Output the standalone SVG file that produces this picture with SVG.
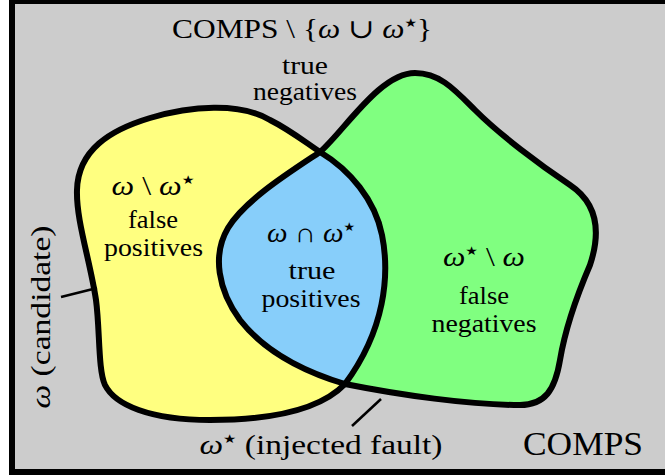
<svg xmlns="http://www.w3.org/2000/svg" width="665" height="475" viewBox="0 0 665 475">
<style>
.t{font-family:"Liberation Serif","DejaVu Serif",serif;fill:#000;text-anchor:middle}
.l{font-size:25px}
.s{font-family:"DejaVu Sans",sans-serif;font-size:12px}
.edge{fill:none;stroke:#000;stroke-width:6;stroke-linejoin:round}
.lead{stroke:#000;stroke-width:2.5;fill:none}
</style>
<defs>
<path id="pY" d="M320,152 C350,170 375,200 382,235 C390,275 385,330 345,384 C320,410 270,420 210,420 C150,420 115,405 105,385 C98,370 100,330 96,300 C90,260 76,220 77,190 C78,150 110,130 150,118 C190,106 240,102 270,120 C290,130 305,142 320,152 Z"/>
<path id="pG" d="M415,73 C440,73 455,90 475,110 C500,135 540,165 570,185 C600,205 600,235 590,265 C575,300 565,330 560,360 C555,390 545,405 520,405 C470,405 400,395 345,384 C305,372 265,352 240,320 C218,290 212,255 228,228 C245,200 290,172 320,152 C345,130 380,73 415,73 Z"/>
<clipPath id="cY"><use href="#pY"/></clipPath>
</defs>
<rect x="12" y="1" width="660" height="471" fill="#cccccc" stroke="#000" stroke-width="6"/>
<g id="omega"><use href="#pY" fill="#ffff80"/></g>
<g id="omega-star"><use href="#pG" fill="#80ff80"/></g>
<g id="intersection"><use href="#pG" fill="#87cefa" clip-path="url(#cY)"/></g>
<g id="outlines">
<use href="#pY" class="edge"/>
<use href="#pG" class="edge"/>
</g>
<g id="connectors">
<line class="lead" x1="61" y1="297" x2="97" y2="288"/>
<line class="lead" x1="352" y1="426" x2="381" y2="399"/>
</g>
<g id="labels">
<text class="t" x="302" y="38" font-size="27" textLength="260" lengthAdjust="spacingAndGlyphs">COMPS \ {<tspan font-style="italic">ω</tspan> ∪ <tspan font-style="italic">ω</tspan><tspan class="s" dy="-11">★</tspan><tspan dy="11">}</tspan></text>
<text class="t l" x="305" y="74" textLength="46" lengthAdjust="spacingAndGlyphs">true</text>
<text class="t l" x="305" y="100" textLength="104" lengthAdjust="spacingAndGlyphs">negatives</text>
<text class="t" x="153" y="195" font-size="27" textLength="83" lengthAdjust="spacingAndGlyphs"><tspan font-style="italic">ω</tspan> \ <tspan font-style="italic">ω</tspan><tspan class="s" dy="-11">★</tspan></text>
<text class="t l" x="153" y="228" textLength="50" lengthAdjust="spacingAndGlyphs">false</text>
<text class="t l" x="153.5" y="256" textLength="99" lengthAdjust="spacingAndGlyphs">positives</text>
<text class="t" x="311" y="242" font-size="27" textLength="88" lengthAdjust="spacingAndGlyphs"><tspan font-style="italic">ω</tspan> ∩ <tspan font-style="italic">ω</tspan><tspan class="s" dy="-11">★</tspan></text>
<text class="t l" x="312" y="279" textLength="47" lengthAdjust="spacingAndGlyphs">true</text>
<text class="t l" x="311" y="307" textLength="99" lengthAdjust="spacingAndGlyphs">positives</text>
<text class="t" x="484" y="266" font-size="27" textLength="82" lengthAdjust="spacingAndGlyphs"><tspan font-style="italic">ω</tspan><tspan class="s" dy="-11">★</tspan><tspan dy="11"> \ </tspan><tspan font-style="italic">ω</tspan></text>
<text class="t l" x="484" y="304" textLength="50" lengthAdjust="spacingAndGlyphs">false</text>
<text class="t l" x="484" y="332" textLength="105" lengthAdjust="spacingAndGlyphs">negatives</text>
<text class="t" x="0" y="0" font-size="27" textLength="183" lengthAdjust="spacingAndGlyphs" transform="translate(50,317) rotate(-90)"><tspan font-style="italic">ω</tspan> (candidate)</text>
<text class="t" x="321" y="454" font-size="27" textLength="243" lengthAdjust="spacingAndGlyphs"><tspan font-style="italic">ω</tspan><tspan class="s" dy="-11">★</tspan><tspan dy="11"> (injected fault)</tspan></text>
<text class="t" x="583" y="455" font-size="34" textLength="120" lengthAdjust="spacingAndGlyphs">COMPS</text>
</g>
</svg>
